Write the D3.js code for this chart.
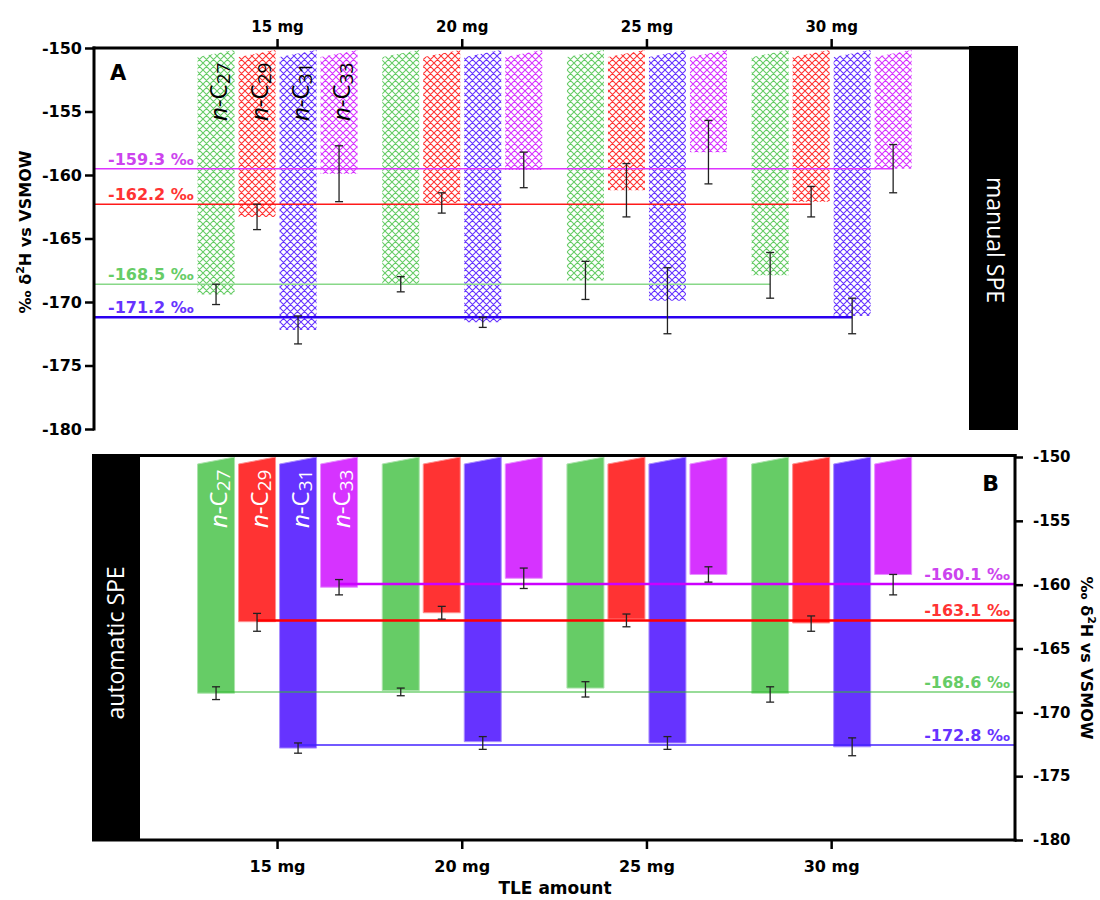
<!DOCTYPE html>
<html>
<head>
<meta charset="utf-8">
<script src="https://cdn.jsdelivr.net/npm/d3@7"></script>
<style>
  body { margin: 0; background: #fff; }
  text { font-family: "DejaVu Sans", sans-serif; font-weight: bold; }
  .sans { font-family: "Open Sans", sans-serif; font-weight: normal; }
</style>
</head>
<body>
<svg id="chart" width="1100" height="900"></svg>
<script>
// ---- data ----
const doses  = ['15 mg', '20 mg', '25 mg', '30 mg'];
const chains = ['27', '29', '31', '33'];
const yTicks = [-150, -155, -160, -165, -170, -175, -180];

// A: manual SPE (bar ends = means, sd)
const manualC27 = [-169.4, -168.6, -168.3, -167.9];
const manualC29 = [-163.3, -162.2, -161.2, -162.1];
const manualC31 = [-172.2, -171.6, -169.9, -171.1];
const manualC33 = [-159.9, -159.6, -158.2, -159.5];
const manualC27sd = [0.8, 0.6, 1.5, 1.8];
const manualC29sd = [1.0, 0.8, 2.1, 1.2];
const manualC31sd = [1.1, 0.4, 2.6, 1.4];
const manualC33sd = [2.2, 1.4, 2.5, 1.9];
const manualAvg      = [-168.6, -162.3, -171.2, -159.5];
const manualAvgLabel = ['-168.5 ‰', '-162.2 ‰', '-171.2 ‰', '-159.3 ‰'];

// B: automatic SPE (bar ends, error-bar centres, sd)
const autoC27 = [-168.5, -168.3, -168.1, -168.5];
const autoC29 = [-162.9, -162.2, -162.7, -163.0];
const autoC31 = [-172.8, -172.3, -172.4, -172.7];
const autoC33 = [-160.2, -159.5, -159.2, -159.2];
const autoC27err = [-168.5, -168.4, -168.2, -168.6];
const autoC29err = [-162.95, -162.2, -162.8, -163.05];
const autoC31err = [-172.8, -172.4, -172.4, -172.7];
const autoC33err = [-160.2, -159.5, -159.2, -160.0];
const autoC27sd = [0.5, 0.3, 0.6, 0.6];
const autoC29sd = [0.7, 0.5, 0.5, 0.6];
const autoC31sd = [0.4, 0.5, 0.5, 0.7];
const autoC33sd = [0.6, 0.8, 0.6, 0.8];
const autoAvg      = [-168.4, -162.8, -172.55, -159.95];
const autoAvgLabel = ['-168.6 ‰', '-163.1 ‰', '-172.8 ‰', '-160.1 ‰'];

// ---- styles ----
const barColor   = ['#66cc66', '#ff3333', '#6633ff', '#d633ff'];
const labelColor = ['#66cc66', '#ff3333', '#6633ff', '#cc44ee'];
const lineA = [{c: '#88d888', w: 1.5, o: 1}, {c: '#ff1a1a', w: 1.5, o: 1}, {c: '#2a00f0', w: 2.5, o: 1}, {c: '#dd33ff', w: 1.5, o: 1}];
const lineB = [{c: '#33bb33', w: 2, o: 0.5}, {c: '#ff0000', w: 2.5, o: 1}, {c: '#4422ff', w: 2, o: 0.75}, {c: '#cc00ff', w: 2.5, o: 1}];

const svg = d3.select('#chart');
svg.append('rect').attr('width', 1100).attr('height', 900).attr('fill', '#fff');

// hatch patterns for panel A
const HS = 7;
const defs = svg.append('defs');
barColor.forEach((c, i) => {
  defs.append('pattern')
    .attr('id', 'hatch' + i)
    .attr('patternUnits', 'userSpaceOnUse')
    .attr('width', HS).attr('height', HS)
    .append('path')
    .attr('d', `M0,0L${HS},${HS}M${HS},0L0,${HS}M-1,1L1,-1M${HS - 1},${HS + 1}L${HS + 1},${HS - 1}M-1,${HS - 1}L1,${HS + 1}M${HS - 1},-1L${HS + 1},1`)
    .attr('stroke', c).attr('stroke-width', 1.1).attr('fill', 'none');
});

// ---- scales ----
const x  = d3.scaleBand().domain(doses).range([185.2, 924.0]);
const xs = d3.scaleBand().domain(chains).range([12.35, 172.35]).paddingInner(0.0976);
const bw = xs.bandwidth();
const cx = (d, s) => x(d) + xs(s) + bw / 2;

const yA = d3.scaleLinear().domain([-180, -150]).range([429, 48]);
const yB = d3.scaleLinear().domain([-180, -150]).range([840, 457]);

const fmtTick = d => String(d);
const SLANT = 7;

function rows(bars, errs, sds) {
  const out = [];
  chains.forEach((s, si) => doses.forEach((d, di) => {
    out.push({s, si, d, v: bars[si][di], m: errs[si][di], sd: sds[si][di]});
  }));
  return out;
}
const dataA = rows([manualC27, manualC29, manualC31, manualC33],
                   [manualC27, manualC29, manualC31, manualC33],
                   [manualC27sd, manualC29sd, manualC31sd, manualC33sd]);
const dataB = rows([autoC27, autoC29, autoC31, autoC33],
                   [autoC27err, autoC29err, autoC31err, autoC33err],
                   [autoC27sd, autoC29sd, autoC31sd, autoC33sd]);

function barPath(d, y, top) {
  const x0 = x(d.d) + xs(d.s), x1 = x0 + bw, yb = y(d.v);
  return `M${x0},${top + SLANT}L${x1},${top}L${x1},${yb}L${x0},${yb}Z`;
}

function errorBars(g, data, y) {
  const e = g.append('g').attr('stroke', '#222').attr('stroke-width', 1.3);
  data.forEach(d => {
    const c = cx(d.d, d.s);
    e.append('line').attr('x1', c).attr('x2', c).attr('y1', y(d.m - d.sd)).attr('y2', y(d.m + d.sd));
    [d.m - d.sd, d.m + d.sd].forEach(v =>
      e.append('line').attr('x1', c - 4).attr('x2', c + 4).attr('y1', y(v)).attr('y2', y(v)));
  });
}

function chainLabels(g, y0, fill) {
  chains.forEach(s => {
    const t = g.append('text').attr('class', 'sans')
      .attr('transform', `translate(${cx(doses[0], s) + 11},${y0}) rotate(-90)`)
      .attr('fill', fill).attr('font-size', 24);
    t.append('tspan').attr('font-style', 'italic').text('n');
    t.append('tspan').text('-C');
    t.append('tspan').attr('font-size', 19).attr('dy', 2.5).text(s);
  });
}

function styleAxis(g, size) {
  g.select('.domain').remove();
  g.selectAll('.tick line').attr('stroke', '#000').attr('stroke-width', 2.5);
  g.selectAll('.tick text').attr('fill', '#000').attr('font-size', size)
    .attr('font-family', '"DejaVu Sans", sans-serif').attr('font-weight', 'bold');
}

function yTitle(g, tx, ty, rot) {
  const t = g.append('text').attr('transform', `translate(${tx},${ty}) rotate(${rot})`)
    .attr('text-anchor', 'middle').attr('font-size', 16).attr('fill', '#000');
  t.append('tspan').text('‰ δ');
  t.append('tspan').attr('font-size', 11).attr('dy', -7).text('2');
  t.append('tspan').attr('dy', 7).text('H vs VSMOW');
}

// ================= Panel A =================
const gA = svg.append('g');
gA.selectAll('path.bar').data(dataA).join('path')
  .attr('class', 'bar')
  .attr('d', d => barPath(d, yA, yA(-150) + 2))
  .attr('fill', d => `url(#hatch${d.si})`);

chainLabels(gA, 121, '#000');

chains.forEach((s, i) => {
  const st = lineA[i];
  gA.append('line')
    .attr('x1', 94).attr('x2', cx(doses[3], s))
    .attr('y1', yA(manualAvg[i])).attr('y2', yA(manualAvg[i]))
    .attr('stroke', st.c).attr('stroke-width', st.w).attr('opacity', st.o);
  gA.append('text').attr('x', 108).attr('y', yA(manualAvg[i]) - 4)
    .attr('font-size', 16).attr('fill', labelColor[i]).text(manualAvgLabel[i]);
});

errorBars(gA, dataA, yA);

// axes A
gA.append('g').attr('transform', 'translate(94,0)')
  .call(d3.axisLeft(yA).tickValues(yTicks).tickFormat(fmtTick).tickSize(9).tickPadding(3))
  .call(g => styleAxis(g, 16));
gA.append('g').attr('transform', 'translate(0,48)')
  .call(d3.axisTop(x).tickSize(9).tickPadding(7))
  .call(g => styleAxis(g, 15));
gA.append('line').attr('x1', 92.5).attr('x2', 969).attr('y1', 48).attr('y2', 48)
  .attr('stroke', '#000').attr('stroke-width', 3);
gA.append('line').attr('x1', 94).attr('x2', 94).attr('y1', 46.5).attr('y2', 430.5)
  .attr('stroke', '#000').attr('stroke-width', 3);

gA.append('text').attr('x', 110).attr('y', 80).attr('font-size', 21).text('A');
yTitle(gA, 31, 232, -90);

gA.append('rect').attr('x', 969).attr('y', 46).attr('width', 49).attr('height', 384).attr('fill', '#000');
gA.append('text').attr('class', 'sans')
  .attr('transform', 'translate(987,240) rotate(90)')
  .attr('text-anchor', 'middle').attr('font-size', 23).attr('fill', '#fff')
  .text('manual SPE');

// ================= Panel B =================
const gB = svg.append('g');
gB.selectAll('path.bar').data(dataB).join('path')
  .attr('class', 'bar')
  .attr('d', d => barPath(d, yB, yB(-150)))
  .attr('fill', d => barColor[d.si])
  .attr('stroke', d => d3.interpolateRgb(barColor[d.si], '#fff')(0.45))
  .attr('stroke-width', 1);

chainLabels(gB, 528, '#fff');

chains.forEach((s, i) => {
  const st = lineB[i];
  gB.append('line')
    .attr('x1', cx(doses[0], s)).attr('x2', 1015)
    .attr('y1', yB(autoAvg[i])).attr('y2', yB(autoAvg[i]))
    .attr('stroke', st.c).attr('stroke-width', st.w).attr('opacity', st.o);
  gB.append('text').attr('x', 1010).attr('y', yB(autoAvg[i]) - 4)
    .attr('text-anchor', 'end')
    .attr('font-size', 16).attr('fill', labelColor[i]).text(autoAvgLabel[i]);
});

errorBars(gB, dataB, yB);

// axes B
gB.append('g').attr('transform', 'translate(1015,0)')
  .call(d3.axisRight(yB).tickValues(yTicks).tickFormat(fmtTick).tickSize(8).tickPadding(10))
  .call(g => styleAxis(g, 15));
gB.append('g').attr('transform', 'translate(0,840)')
  .call(d3.axisBottom(x).tickSize(9).tickPadding(12))
  .call(g => styleAxis(g, 16));
gB.append('line').attr('x1', 92).attr('x2', 1016.5).attr('y1', 455.5).attr('y2', 455.5)
  .attr('stroke', '#000').attr('stroke-width', 3);
gB.append('line').attr('x1', 92).attr('x2', 1016.5).attr('y1', 840).attr('y2', 840)
  .attr('stroke', '#000').attr('stroke-width', 3);
gB.append('line').attr('x1', 1015).attr('x2', 1015).attr('y1', 454).attr('y2', 841.5)
  .attr('stroke', '#000').attr('stroke-width', 3);

gB.append('text').attr('x', 999).attr('y', 491).attr('text-anchor', 'end').attr('font-size', 22).text('B');
yTitle(gB, 1081, 658, 90);

gB.append('text').attr('x', 555).attr('y', 894).attr('text-anchor', 'middle')
  .attr('font-size', 17).text('TLE amount');

gB.append('rect').attr('x', 92).attr('y', 455).attr('width', 48).attr('height', 386).attr('fill', '#000');
gB.append('text').attr('class', 'sans')
  .attr('transform', 'translate(123.5,643) rotate(-90)')
  .attr('text-anchor', 'middle').attr('font-size', 23).attr('fill', '#fff')
  .text('automatic SPE');
</script>
</body>
</html>
